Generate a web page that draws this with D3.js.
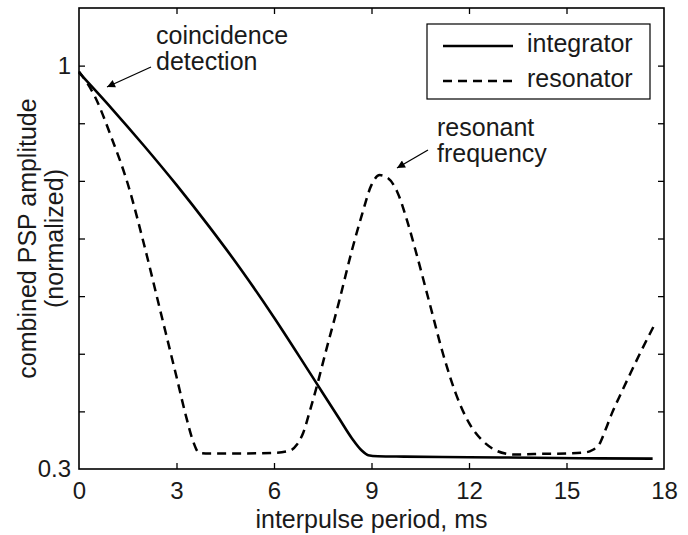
<!DOCTYPE html>
<html>
<head>
<meta charset="utf-8">
<script src="https://cdn.jsdelivr.net/npm/d3@7/dist/d3.min.js"></script>
<style>
  html, body { margin: 0; padding: 0; background: #fff; }
  svg { display: block; font-family: "Liberation Sans", Arial, Helvetica, sans-serif; }
</style>
</head>
<body>
<svg id="chart" width="688" height="535"></svg>
<script>
// Interpulse period (ms) and normalized combined PSP amplitude
const integratorPeriod = [0, 1, 2, 3, 4, 5, 6, 7, 7.5, 8, 8.4, 8.7, 8.9, 9.2, 10, 12, 14, 16, 17.65];
const integratorAmp    = [0.988, 0.926, 0.861, 0.793, 0.721, 0.645, 0.563, 0.476, 0.432, 0.388, 0.353, 0.332, 0.324, 0.3222, 0.3215, 0.3205, 0.3195, 0.3185, 0.318];

const resonatorPeriod = [0, 0.5, 1, 1.5, 2, 2.5, 3, 3.3, 3.5, 3.7, 4, 5, 6, 6.5, 6.7, 6.9, 7.1, 7.3, 7.6, 8, 8.4, 8.7, 9, 9.25, 9.5, 9.8, 10.1, 10.4, 10.8, 11.2, 11.6, 12, 12.4, 12.8, 13.2, 13.4, 14, 15, 15.6, 15.8, 16, 16.2, 16.4, 16.7, 17, 17.3, 17.75];
const resonatorAmp    = [0.99, 0.945, 0.875, 0.795, 0.69, 0.575, 0.46, 0.39, 0.35, 0.328, 0.327, 0.327, 0.328, 0.332, 0.342, 0.363, 0.4, 0.44, 0.505, 0.59, 0.68, 0.74, 0.793, 0.81, 0.805, 0.78, 0.73, 0.67, 0.585, 0.5, 0.43, 0.38, 0.35, 0.333, 0.326, 0.325, 0.326, 0.327, 0.329, 0.333, 0.342, 0.368, 0.397, 0.434, 0.47, 0.505, 0.555];

const xTicks = [0, 3, 6, 9, 12, 15, 18];
const yTicks = [0.3, 0.4, 0.5, 0.6, 0.7, 0.8, 0.9, 1];
const yTickLabels = { 0.3: "0.3", 1: "1" };

const seriesNames = ["integrator", "resonator"];

const svg = d3.select("#chart");
const plotLeft = 79, plotRight = 664, plotTop = 8, plotBottom = 469;

const x = d3.scaleLinear().domain([0, 18]).range([plotLeft, plotRight]);
const y = d3.scaleLinear().domain([0.3, 1.1]).range([plotBottom, plotTop]);

const tickFont = 24, labelFont = 25;
const textColor = "#1a1a1a";

// Axes: ticks point inward on all four sides
const gx = svg.append("g").attr("transform", `translate(0,${plotBottom})`)
  .call(d3.axisBottom(x).tickValues(xTicks).tickSizeInner(-6).tickSizeOuter(0).tickPadding(13)
    .tickFormat(d3.format("d")));
const gxTop = svg.append("g").attr("transform", `translate(0,${plotTop})`)
  .call(d3.axisTop(x).tickValues(xTicks).tickSizeInner(-6).tickSizeOuter(0).tickFormat(""));
const gy = svg.append("g").attr("transform", `translate(${plotLeft},0)`)
  .call(d3.axisLeft(y).tickValues(yTicks).tickSizeInner(-6).tickSizeOuter(0).tickPadding(8)
    .tickFormat(d => yTickLabels[d] || ""));
const gyRight = svg.append("g").attr("transform", `translate(${plotRight},0)`)
  .call(d3.axisRight(y).tickValues(yTicks).tickSizeInner(-6).tickSizeOuter(0).tickFormat(""));

[gx, gxTop, gy, gyRight].forEach(g => {
  g.select(".domain").remove();
  g.selectAll(".tick line").attr("stroke", "#000").attr("stroke-width", 1.3);
  g.selectAll(".tick text").attr("fill", textColor).style("font-size", tickFont + "px")
    .style("font-family", '"Liberation Sans", Arial, sans-serif');
});
// end ticks coincide with the frame
gx.selectAll(".tick line").filter(d => d === 0 || d === 18).remove();
gxTop.selectAll(".tick line").filter(d => d === 0 || d === 18).remove();
gy.selectAll(".tick line").filter(d => d === 0.3).remove();
gyRight.selectAll(".tick line").filter(d => d === 0.3).remove();

// Frame
svg.append("rect")
  .attr("x", plotLeft).attr("y", plotTop)
  .attr("width", plotRight - plotLeft).attr("height", plotBottom - plotTop)
  .attr("fill", "none").attr("stroke", "#000").attr("stroke-width", 1.6);

// Curves
const line = d3.line().x(d => x(d[0])).y(d => y(d[1])).curve(d3.curveMonotoneX);
const integratorData = integratorPeriod.map((t, i) => [t, integratorAmp[i]]);
const resonatorData = resonatorPeriod.map((t, i) => [t, resonatorAmp[i]]);

svg.append("path").datum(integratorData)
  .attr("d", line).attr("fill", "none").attr("stroke", "#000")
  .attr("stroke-width", 2.6).attr("stroke-linejoin", "round");
svg.append("path").datum(resonatorData)
  .attr("d", line).attr("fill", "none").attr("stroke", "#000")
  .attr("stroke-width", 2.5).attr("stroke-dasharray", "9,6");

// Axis titles
svg.append("text")
  .attr("x", (plotLeft + plotRight) / 2).attr("y", 528)
  .attr("text-anchor", "middle").style("font-size", labelFont + "px").attr("fill", textColor)
  .text("interpulse period, ms");

const yTitle = svg.append("text")
  .attr("transform", `translate(0,${(plotTop + plotBottom) / 2}) rotate(-90)`)
  .attr("text-anchor", "middle").style("font-size", labelFont + "px").attr("fill", textColor);
yTitle.append("tspan").attr("x", 0).attr("y", 36).text("combined PSP amplitude");
yTitle.append("tspan").attr("x", 0).attr("y", 63).text("(normalized)");

// Legend
const legend = svg.append("g");
legend.append("rect")
  .attr("x", 427).attr("y", 24).attr("width", 223).attr("height", 75)
  .attr("fill", "#fff").attr("stroke", "#000").attr("stroke-width", 1.2);
const legendRows = [
  { name: seriesNames[0], dash: null, ly: 46, ty: 52 },
  { name: seriesNames[1], dash: "9,6", ly: 81, ty: 87 }
];
legendRows.forEach(r => {
  legend.append("line")
    .attr("x1", 443).attr("x2", 513).attr("y1", r.ly).attr("y2", r.ly)
    .attr("stroke", "#000").attr("stroke-width", 2.5)
    .attr("stroke-dasharray", r.dash);
  legend.append("text").attr("x", 527).attr("y", r.ty)
    .style("font-size", labelFont + "px").attr("fill", textColor).text(r.name);
});

// Annotations with arrows
svg.append("defs").append("marker")
  .attr("id", "arrowhead").attr("viewBox", "0 0 10 10")
  .attr("refX", 10).attr("refY", 5)
  .attr("markerWidth", 11).attr("markerHeight", 8)
  .attr("markerUnits", "userSpaceOnUse")
  .attr("orient", "auto")
  .append("path").attr("d", "M0,0 L10,5 L0,10 Z").attr("fill", "#000");

function annotate(lines, tx, ty, from, to) {
  const t = svg.append("text").style("font-size", labelFont + "px").attr("fill", textColor);
  lines.forEach((s, i) => t.append("tspan").attr("x", tx).attr("y", ty + i * 26).text(s));
  svg.append("line")
    .attr("x1", from[0]).attr("y1", from[1]).attr("x2", to[0]).attr("y2", to[1])
    .attr("stroke", "#000").attr("stroke-width", 1.3)
    .attr("marker-end", "url(#arrowhead)");
}
annotate(["coincidence", "detection"], 156, 44, [151, 67], [107, 87]);
annotate(["resonant", "frequency"], 437, 136, [428, 150], [397, 168]);
</script>
</body>
</html>
